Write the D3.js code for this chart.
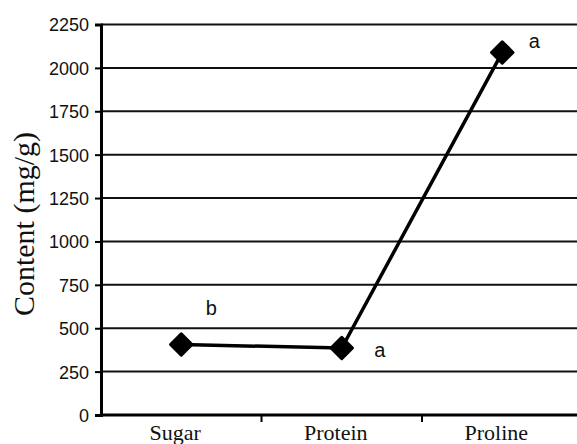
<!DOCTYPE html>
<html><head><meta charset="utf-8">
<script src="https://cdn.jsdelivr.net/npm/d3@7/dist/d3.min.js"></script>
<style>html,body{margin:0;padding:0;background:#fff;overflow:hidden}</style>
</head><body><svg id="c" width="577" height="444"></svg>
<script>
const categories = ["Sugar", "Protein", "Proline"];
const values = [406, 386, 2089];
const letters = ["b", "a", "a"];
const yTicks = [0, 250, 500, 750, 1000, 1250, 1500, 1750, 2000, 2250];

(function () {
const svg = d3.select("#c");
const pL = 101, pR = 582.5, pT = 24.5, pB = 415;

const x = d3.scaleBand().domain(categories).range([pL, pR]).padding(0);
const y = d3.scaleLinear().domain([0, 2250]).range([pB, pT]);

svg.append("g").selectAll("line").data(yTicks.filter(d => d > 0)).join("line")
  .attr("x1", pL).attr("x2", pR + 10)
  .attr("y1", d => y(d)).attr("y2", d => y(d))
  .attr("stroke", "#111").attr("stroke-width", 2);

const ya = svg.append("g").attr("transform", `translate(${pL},0)`)
  .call(d3.axisLeft(y).tickValues(yTicks).tickSize(6).tickPadding(6).tickFormat(d3.format("d")));
ya.select(".domain").attr("stroke", "#000").attr("stroke-width", 3);
ya.selectAll(".tick line").attr("stroke", "#000").attr("stroke-width", 2);
ya.selectAll("text").style("font-family", "'Liberation Sans', Arial, sans-serif")
  .style("font-size", "18px").attr("fill", "#111").attr("dy", "0.36em");

const xa = svg.append("g").attr("transform", `translate(0,${pB})`)
  .call(d3.axisBottom(x).tickSize(0).tickPadding(0));
xa.select(".domain").remove();
xa.append("line").attr("x1", pL).attr("x2", pR + 10).attr("y1", 0).attr("y2", 0)
  .attr("stroke", "#000").attr("stroke-width", 3);
xa.selectAll(".tick text").style("font-family", "'Liberation Serif', 'Times New Roman', serif")
  .style("font-size", "22px").attr("fill", "#111").attr("dy", 0).attr("y", 25).attr("dx", -6);
xa.selectAll(".btick").data(categories.slice(1)).join("line")
  .attr("x1", d => x(d)).attr("x2", d => x(d)).attr("y1", 0).attr("y2", 7)
  .attr("stroke", "#000").attr("stroke-width", 2);

svg.append("text")
  .attr("transform", `translate(34,224) rotate(-90)`)
  .attr("text-anchor", "middle")
  .style("font-family", "'Liberation Serif', 'Times New Roman', serif")
  .style("font-size", "30px").attr("fill", "#111")
  .text("Content (mg/g)");

const cx = d => x(d) + x.bandwidth() / 2;
const line = d3.line().x((d, i) => cx(categories[i])).y(d => y(d));
svg.append("path").datum(values).attr("d", line)
  .attr("fill", "none").attr("stroke", "#000").attr("stroke-width", 3.5);

svg.append("g").selectAll("path").data(values).join("path")
  .attr("d", d3.symbol().type(d3.symbolSquare).size(230))
  .attr("transform", (d, i) => `translate(${cx(categories[i])},${y(d)}) rotate(45)`)
  .attr("fill", "#000").attr("stroke", "#000").attr("stroke-width", 3).attr("stroke-linejoin", "round");

const off = [[30, -30], [38, 9], [32, -4]];
svg.append("g").selectAll("text").data(letters).join("text")
  .attr("x", (d, i) => cx(categories[i]) + off[i][0])
  .attr("y", (d, i) => y(values[i]) + off[i][1])
  .attr("text-anchor", "middle")
  .style("font-family", "'Liberation Sans', Arial, sans-serif")
  .style("font-size", "20px").attr("fill", "#111")
  .text(d => d);
})();
</script></body></html>
